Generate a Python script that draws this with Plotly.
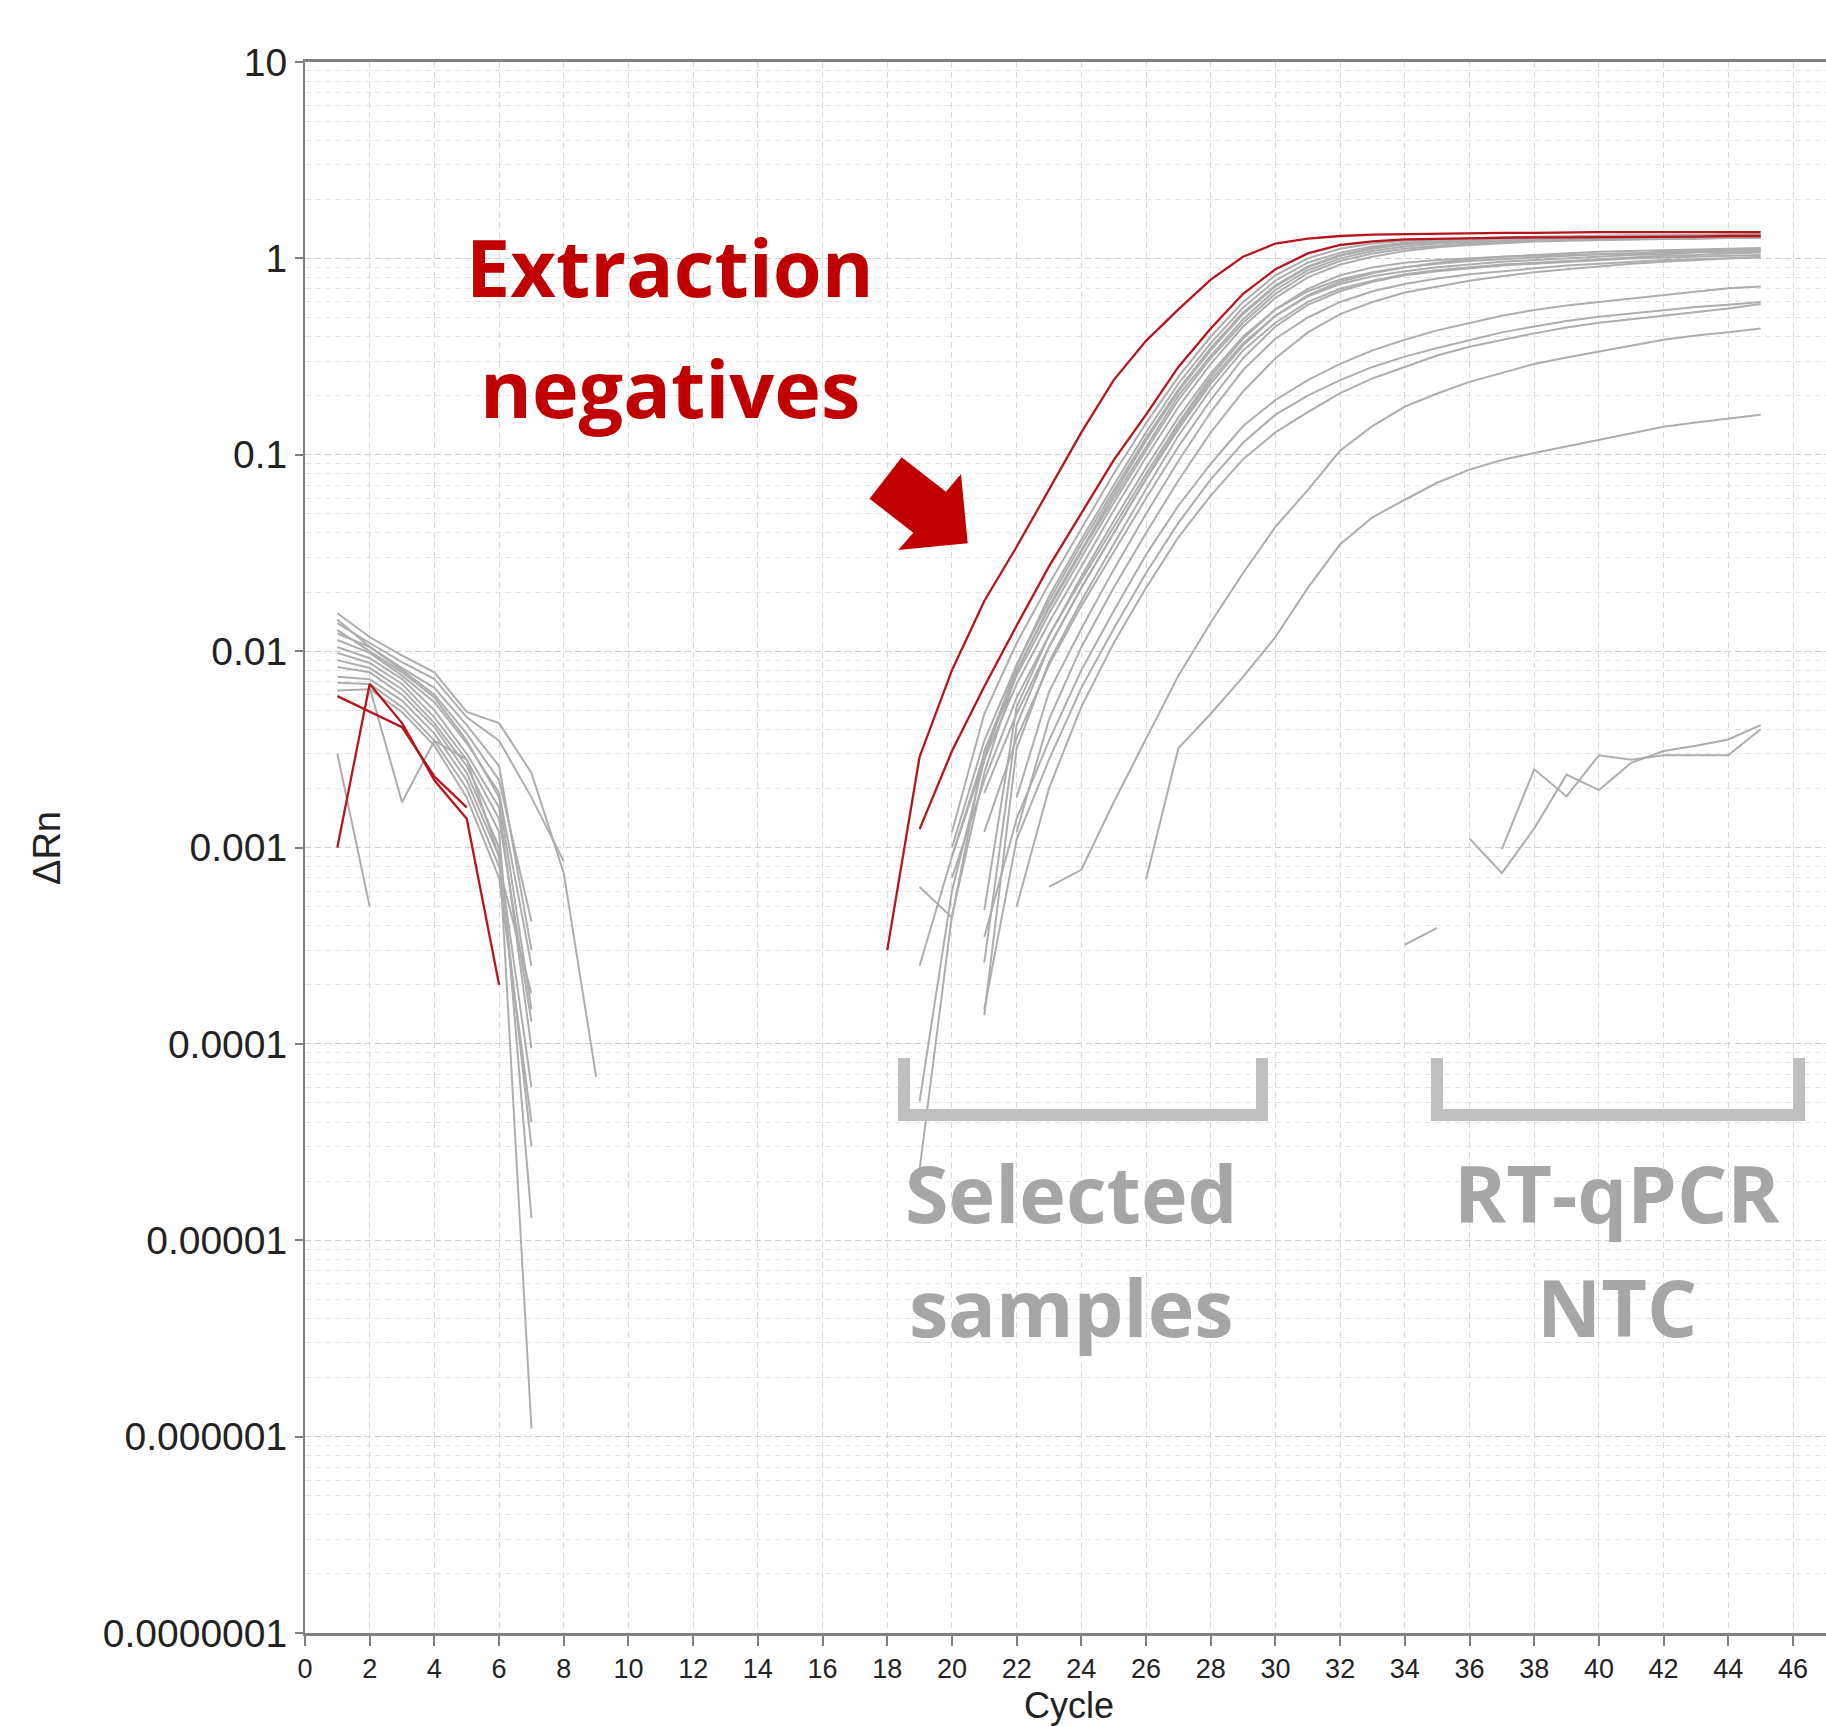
import plotly.graph_objects as go

# ---------------- data ----------------
# each entry: (first cycle, delta-Rn values for consecutive cycles)
BASELINE_GRAY = [
    (1, [0.0156, 0.0118, 0.0095, 0.0078, 0.0049, 0.0043, 0.0024, 0.00074, 0.000068]),
    (1, [0.0139, 0.0110, 0.0088, 0.0072, 0.0046, 0.0035, 0.0018, 0.00085]),
    (1, [0.0145, 0.0105, 0.0082, 0.0065, 0.0042, 0.0026, 0.00030]),
    (1, [0.0128, 0.0100, 0.0078, 0.0058, 0.0035, 0.0018, 0.00015]),
    (1, [0.0123, 0.0105, 0.0080, 0.0060, 0.0038, 0.0022, 0.00042]),
    (1, [0.0114, 0.0098, 0.0075, 0.0055, 0.0034, 0.0019, 0.00025]),
    (1, [0.0105, 0.0092, 0.0072, 0.0050, 0.0030, 0.0016, 0.000095]),
    (1, [0.0098, 0.0087, 0.0068, 0.0046, 0.0028, 0.0014, 0.00013]),
    (1, [0.0090, 0.0082, 0.0064, 0.0043, 0.0026, 0.0012, 0.000013]),
    (1, [0.0083, 0.0078, 0.0060, 0.0041, 0.0024, 0.0010, 0.0000011]),
    (1, [0.0074, 0.0072, 0.0056, 0.0038, 0.0022, 0.0009, 0.00006]),
    (1, [0.0069, 0.0068, 0.0052, 0.0035, 0.0020, 0.0008, 0.00018]),
    (1, [0.0063, 0.0064, 0.0049, 0.0033, 0.0018, 0.0007, 0.00004]),
    (2, [0.0065, 0.0017, 0.0035, 0.0028, 0.0009, 0.00003]),
    (1, [0.0030, 0.0005]),
]
BASELINE_RED = [
    (1, [0.0010, 0.0068, 0.0043, 0.0022, 0.0014, 0.00020]),
    (1, [0.0059, 0.0049, 0.0041, 0.0023, 0.0016]),
]
SAMPLES_GRAY = [
    (20, [0.0012, 0.0048, 0.011, 0.022, 0.042, 0.080, 0.145, 0.25, 0.40, 0.60, 0.82, 1.00, 1.12,
          1.19, 1.23, 1.25, 1.27, 1.28, 1.29, 1.30, 1.30, 1.31, 1.31, 1.32, 1.32, 1.33]),
    (20, [0.0010, 0.0035, 0.0085, 0.018, 0.035, 0.066, 0.122, 0.215, 0.35, 0.53, 0.73, 0.91, 1.04,
          1.13, 1.19, 1.22, 1.24, 1.26, 1.27, 1.28, 1.29, 1.30, 1.30, 1.31, 1.31, 1.32]),
    (19, [0.000051, 0.0006, 0.0028, 0.0085, 0.019, 0.037, 0.070, 0.13, 0.23, 0.37, 0.56, 0.77, 0.95,
          1.07, 1.15, 1.20, 1.23, 1.25, 1.26, 1.27, 1.28, 1.29, 1.29, 1.30, 1.30, 1.31, 1.31]),
    (19, [0.000023, 0.00045, 0.0024, 0.0078, 0.017, 0.033, 0.063, 0.118, 0.21, 0.34, 0.52, 0.72, 0.90,
          1.03, 1.12, 1.18, 1.21, 1.23, 1.25, 1.26, 1.27, 1.28, 1.28, 1.29, 1.29, 1.30, 1.30]),
    (19, [0.00063, 0.00044, 0.0031, 0.0080, 0.0165, 0.032, 0.060, 0.11, 0.20, 0.32, 0.49, 0.69, 0.87,
          1.00, 1.09, 1.15, 1.19, 1.21, 1.23, 1.24, 1.25, 1.26, 1.27, 1.27, 1.28, 1.28, 1.29]),
    (19, [0.00025, 0.0009, 0.0030, 0.0075, 0.0155, 0.030, 0.057, 0.105, 0.19, 0.31, 0.47, 0.66, 0.84,
          0.97, 1.06, 1.12, 1.16, 1.19, 1.21, 1.23, 1.24, 1.25, 1.25, 1.26, 1.26, 1.27, 1.27]),
    (20, [0.0009, 0.0028, 0.0068, 0.014, 0.027, 0.052, 0.097, 0.175, 0.29, 0.45, 0.63, 0.80, 0.93,
          1.02, 1.09, 1.14, 1.17, 1.20, 1.22, 1.23, 1.24, 1.25, 1.26, 1.27, 1.28, 1.28]),
    (21, [0.0019, 0.0048, 0.0105, 0.021, 0.040, 0.075, 0.135, 0.23, 0.36, 0.51, 0.65, 0.76, 0.84,
          0.90, 0.95, 0.99, 1.02, 1.04, 1.06, 1.08, 1.09, 1.10, 1.11, 1.12, 1.13]),
    (21, [0.00048, 0.0052, 0.012, 0.024, 0.046, 0.086, 0.155, 0.26, 0.40, 0.55, 0.68, 0.78, 0.85,
          0.90, 0.94, 0.97, 0.99, 1.01, 1.03, 1.05, 1.06, 1.08, 1.09, 1.10, 1.12]),
    (21, [0.00026, 0.0042, 0.0105, 0.021, 0.040, 0.076, 0.14, 0.24, 0.37, 0.51, 0.64, 0.74, 0.81,
          0.86, 0.90, 0.93, 0.96, 0.98, 1.00, 1.02, 1.04, 1.05, 1.07, 1.08, 1.10]),
    (21, [0.00014, 0.0032, 0.0088, 0.018, 0.035, 0.067, 0.125, 0.215, 0.34, 0.47, 0.60, 0.70, 0.77,
          0.83, 0.87, 0.90, 0.93, 0.95, 0.97, 0.99, 1.01, 1.03, 1.04, 1.06, 1.07]),
    (20, [0.0007, 0.0022, 0.0058, 0.012, 0.023, 0.043, 0.080, 0.145, 0.25, 0.39, 0.55, 0.70, 0.82,
          0.90, 0.95, 0.98, 1.00, 1.02, 1.03, 1.04, 1.05, 1.06, 1.07, 1.08, 1.08, 1.09]),
    (21, [0.0012, 0.0036, 0.0085, 0.017, 0.032, 0.060, 0.11, 0.19, 0.31, 0.45, 0.58, 0.68, 0.76,
          0.82, 0.86, 0.89, 0.92, 0.94, 0.96, 0.98, 1.00, 1.01, 1.02, 1.03, 1.04]),
    (22, [0.0018, 0.0062, 0.013, 0.026, 0.050, 0.093, 0.165, 0.27, 0.39, 0.50, 0.60, 0.68, 0.74,
          0.79, 0.83, 0.86, 0.89, 0.92, 0.94, 0.96, 0.98, 0.99, 1.00, 1.01]),
    (22, [0.0012, 0.0045, 0.0105, 0.021, 0.040, 0.074, 0.13, 0.21, 0.31, 0.42, 0.52, 0.60, 0.67,
          0.72, 0.77, 0.81, 0.85, 0.88, 0.91, 0.94, 0.96, 0.98, 1.00, 1.02]),
    (21, [0.00035, 0.0014, 0.0035, 0.008, 0.016, 0.031, 0.055, 0.09, 0.14, 0.19, 0.24, 0.29, 0.34,
          0.385, 0.43, 0.467, 0.51, 0.546, 0.575, 0.60, 0.625, 0.65, 0.68, 0.705, 0.72]),
    (21, [0.00015, 0.0011, 0.0028, 0.0065, 0.013, 0.025, 0.045, 0.075, 0.115, 0.16, 0.20, 0.24, 0.28,
          0.316, 0.35, 0.385, 0.42, 0.45, 0.48, 0.505, 0.525, 0.546, 0.565, 0.58, 0.60]),
    (22, [0.0005, 0.0020, 0.0052, 0.011, 0.021, 0.038, 0.062, 0.095, 0.13, 0.165, 0.206, 0.245, 0.28,
          0.32, 0.355, 0.385, 0.415, 0.445, 0.47, 0.49, 0.51, 0.535, 0.556, 0.586]),
    (23, [0.00063, 0.00077, 0.0017, 0.0036, 0.0075, 0.014, 0.025, 0.043, 0.066, 0.105, 0.14, 0.176,
          0.205, 0.235, 0.262, 0.29, 0.313, 0.335, 0.36, 0.385, 0.405, 0.42, 0.44]),
    (26, [0.00069, 0.0032, 0.0048, 0.0074, 0.0118, 0.021, 0.035, 0.048, 0.059, 0.072, 0.084, 0.094,
          0.102, 0.11, 0.119, 0.129, 0.139, 0.146, 0.153, 0.16]),
]
EXTRACTION_NEG_RED = [
    (18, [0.00030, 0.0029, 0.0080, 0.018, 0.034, 0.066, 0.13, 0.24, 0.38, 0.55, 0.78, 1.02, 1.19,
          1.26, 1.30, 1.32, 1.33, 1.34, 1.35, 1.35, 1.35, 1.36, 1.36, 1.36, 1.36, 1.36, 1.36, 1.36]),
    (19, [0.00124, 0.0031, 0.0066, 0.0135, 0.027, 0.050, 0.094, 0.16, 0.28, 0.44, 0.66, 0.88, 1.06,
          1.17, 1.22, 1.25, 1.26, 1.27, 1.27, 1.28, 1.28, 1.28, 1.29, 1.29, 1.29, 1.30, 1.30]),
]
NTC_GRAY = [
    (34, [0.00032, 0.00039]),
    (36, [0.00111, 0.00074, 0.00125, 0.00235, 0.00196, 0.0027, 0.0031, 0.0033, 0.00355, 0.0042]),
    (37, [0.00098, 0.0025, 0.00182, 0.00295, 0.0028, 0.00295, 0.00295, 0.00295, 0.0040]),
]

Y_TICK_VALS = [1e-7, 1e-6, 1e-5, 1e-4, 1e-3, 1e-2, 1e-1, 1, 10]
Y_TICK_TEXT = ["0.0000001", "0.000001", "0.00001", "0.0001", "0.001", "0.01", "0.1", "1", "10"]
X_RANGE = [0, 47.02]

# ---------------- geometry helpers (page pixels -> paper) ----------------
W, H = 1826, 1727
PL, PR, PT, PB = 305, 1826, 62, 1633


def px(x):
    return (x - PL) / (PR - PL)


def py(y):
    return (PB - y) / (PB - PT)


GRAY = "#ADADAD"
RED = "#B8141C"
DARK_RED = "#C00000"
LABEL_GRAY = "#A6A6A6"
BRACKET_GRAY = "#BFBFBF"

fig = go.Figure()


def add_group(group, color, width):
    for start, vals in group:
        fig.add_trace(go.Scatter(
            x=list(range(start, start + len(vals))), y=vals, mode="lines",
            line=dict(color=color, width=width), hoverinfo="skip", showlegend=False))


add_group(BASELINE_GRAY, GRAY, 2)
add_group(SAMPLES_GRAY, GRAY, 2)
add_group(NTC_GRAY, GRAY, 2)
add_group(BASELINE_RED, RED, 2.3)
add_group(EXTRACTION_NEG_RED, RED, 2.3)

minor_vals = [m * 10 ** e for e in range(-7, 1) for m in range(2, 10)]

fig.update_xaxes(
    range=X_RANGE, tick0=0, dtick=2, showgrid=True, gridcolor="#D9D9D9", griddash="6px,4px",
    gridwidth=1, zeroline=False, showline=True, linecolor="#808080", linewidth=3, mirror=True,
    ticks="outside", ticklen=10, tickwidth=2, tickcolor="#808080",
    tickfont=dict(family="Liberation Sans", size=27, color="#222222"))
fig.update_yaxes(
    type="log", range=[-7, 1], tickvals=Y_TICK_VALS, ticktext=Y_TICK_TEXT,
    showgrid=True, gridcolor="#CDCDCD", griddash="6px,4px", gridwidth=1, zeroline=False,
    showline=True, linecolor="#808080", linewidth=2, ticks="outside", ticklen=8, tickwidth=2,
    tickcolor="#808080", tickfont=dict(family="Liberation Sans", size=39, color="#222222"),
    minor=dict(tickvals=minor_vals, showgrid=True, gridcolor="#E4E4E4", griddash="6px,4px",
               gridwidth=1, ticks=""))

ann = []
BIG = 79


def label(text, xc, yc, color, size=BIG, bold=True, family="Open Sans", angle=0):
    ann.append(dict(text=("<b>%s</b>" % text) if bold else text, x=px(xc), y=py(yc),
                    xref="paper", yref="paper", showarrow=False, xanchor="center",
                    yanchor="middle", textangle=angle,
                    font=dict(family=family, size=size, color=color)))


label("Extraction", 670, 266, DARK_RED)
label("negatives", 670, 387, DARK_RED)
label("Selected", 1071, 1192, LABEL_GRAY)
label("samples", 1071, 1306, LABEL_GRAY)
label("RT-qPCR", 1617, 1192, LABEL_GRAY)
label("NTC", 1617, 1306, LABEL_GRAY)
label("Cycle", 1069, 1705, "#222222", size=36, bold=False, family="Liberation Sans")
label("ΔRn", 47, 848, "#222222", size=38, bold=False, family="Liberation Sans", angle=-90)

shapes = []


def path(points, closed=False):
    s = "M " + " L ".join("%.5f %.5f" % (px(x), py(y)) for x, y in points)
    return s + (" Z" if closed else "")


# brackets
for xl, xr in [(904, 1262), (1437, 1799)]:
    shapes.append(dict(type="path", xref="paper", yref="paper",
                       path=path([(xl, 1058), (xl, 1115), (xr, 1115), (xr, 1058)]),
                       line=dict(color=BRACKET_GRAY, width=12), layer="above"))
# block arrow
arrow_pts = [(901.7, 457.3), (946, 491.7), (961, 474), (967.7, 543.3), (898.3, 550),
             (913.3, 532.7), (869.5, 498.7)]
shapes.append(dict(type="path", xref="paper", yref="paper", path=path(arrow_pts, True),
                   fillcolor=DARK_RED, line=dict(width=0), layer="above"))

fig.update_layout(
    width=W, height=H, margin=dict(l=PL, r=W - PR, t=PT, b=H - PB, pad=0),
    paper_bgcolor="white", plot_bgcolor="white", showlegend=False,
    annotations=ann, shapes=shapes)

fig.write_html("out.html", config={"displayModeBar": False},
               post_script="document.body.style.margin='0';")
